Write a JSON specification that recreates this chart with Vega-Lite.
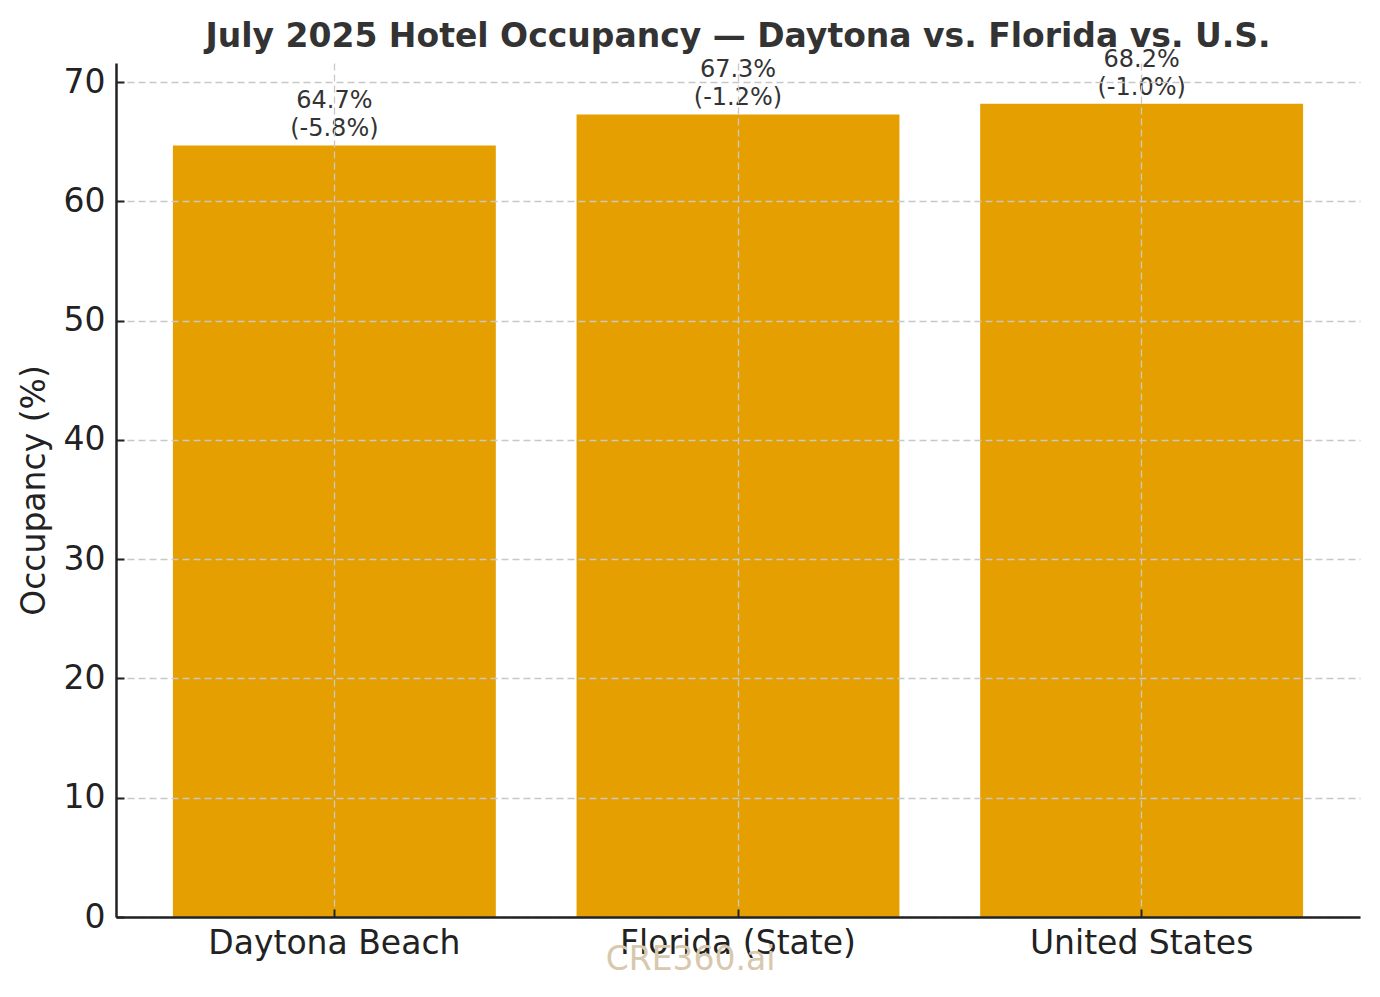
{
  "$schema": "https://vega.github.io/schema/vega-lite/v6.json",
  "autosize": {"type": "none"},
  "width": 1244,
  "height": 854,
  "padding": {"left": 116, "top": 63, "right": 20, "bottom": 80},
  "background": "white",
  "view": {"stroke": null},
  "title": {
    "text": "July 2025 Hotel Occupancy — Daytona vs. Florida vs. U.S.",
    "font": "DejaVu Sans",
    "fontSize": 33,
    "fontWeight": "bold",
    "color": "#333333",
    "anchor": "middle",
    "offset": -6
  },
  "data": {
    "values": [
      {"market": "Daytona Beach", "occupancy": 64.7, "change": "(-5.8%)"},
      {"market": "Florida (State)", "occupancy": 67.3, "change": "(-1.2%)"},
      {"market": "United States", "occupancy": 68.2, "change": "(-1.0%)"}
    ]
  },
  "encoding": {
    "x": {
      "field": "market",
      "type": "nominal",
      "sort": null,
      "scale": {"paddingInner": 0.2, "paddingOuter": 0.141},
      "axis": {
        "title": "CRE360.ai",
        "titleColor": "#d8c8ae",
        "titleFont": "DejaVu Sans",
        "titleFontSize": 33,
        "titleFontWeight": "normal",
        "titleX": 574,
        "titleY": 42,
        "titleBaseline": "middle",
        "labelAngle": 0,
        "labelLimit": 0,
        "labelFont": "DejaVu Sans",
        "labelFontSize": 33,
        "labelColor": "#222222",
        "labelPadding": 18,
        "tickSize": -8,
        "tickWidth": 2,
        "tickColor": "#222222",
        "domainColor": "#222222",
        "domainWidth": 2.5,
        "grid": true,
        "gridColor": "#c8c8c8",
        "gridDash": [7, 4],
        "gridWidth": 1.3,
        "zindex": 1
      }
    }
  },
  "layer": [
    {
      "mark": {"type": "bar", "color": "#E69F00"},
      "encoding": {
        "y": {
          "field": "occupancy",
          "type": "quantitative",
          "scale": {"domain": [0, 71.61], "nice": false},
          "axis": {
            "title": "Occupancy (%)",
            "titleFont": "DejaVu Sans",
            "titleFontSize": 33,
            "titleFontWeight": "normal",
            "titleColor": "#222222",
            "titlePadding": 12,
            "values": [0, 10, 20, 30, 40, 50, 60, 70],
            "labelFont": "DejaVu Sans",
            "labelFontSize": 33,
            "labelColor": "#222222",
            "labelPadding": 19,
            "tickSize": -8,
            "tickWidth": 2,
            "tickColor": "#222222",
            "domainColor": "#222222",
            "domainWidth": 2.5,
            "grid": true,
            "gridColor": "#c8c8c8",
            "gridDash": [7, 4],
            "gridWidth": 1.3,
            "zindex": 1
          }
        }
      }
    },
    {
      "mark": {
        "type": "text",
        "baseline": "bottom",
        "align": "center",
        "dy": -32,
        "font": "DejaVu Sans",
        "fontSize": 24,
        "lineHeight": 28,
        "color": "#333333"
      },
      "encoding": {
        "y": {"field": "occupancy", "type": "quantitative"},
        "text": {"field": "label"}
      },
      "transform": [
        {"calculate": "[format(datum.occupancy, '.1f') + '%', datum.change]", "as": "label"}
      ]
    }
  ]
}
